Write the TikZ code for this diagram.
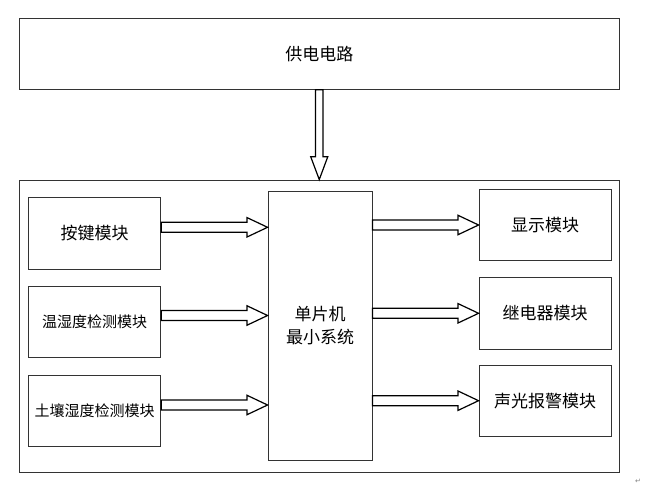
\documentclass[tikz,border=0pt]{standalone}
\usepackage{fontspec}
\setmainfont{Noto Sans CJK SC}
\newfontfamily\dejavu{DejaVu Sans}
\usetikzlibrary{calc}
\tikzset{
  box/.style={draw=black!80, line width=0.9pt, rectangle, inner sep=0pt, align=center,
    font=\fontsize{17}{23}\selectfont},
  smalltext/.style={font=\fontsize{15}{18}\selectfont},
  fatarrow/.style={draw=black, fill=white, line width=1.2pt, line join=miter},
  harrow/.style={fatarrow, to path={let \p1=(\tikztostart), \p2=(\tikztotarget) in
    (\x1,\y1+5pt) -- (\x2-20.5pt,\y1+5pt) -- (\x2-20.5pt,\y1+9.7pt) -- (\x2,\y2)
    -- (\x2-20.5pt,\y1-9.7pt) -- (\x2-20.5pt,\y1-5pt) -- (\x1,\y1-5pt) -- cycle}},
  varrow/.style={fatarrow, to path={let \p1=(\tikztostart), \p2=(\tikztotarget) in
    (\x1-3.7pt,\y1) -- (\x1-3.7pt,\y2+22.7pt) -- (\x1-8.5pt,\y2+22.7pt) -- (\x2,\y2)
    -- (\x1+8.5pt,\y2+22.7pt) -- (\x1+3.7pt,\y2+22.7pt) -- (\x1+3.7pt,\y1) -- cycle}}
}
\begin{document}
\begin{tikzpicture}[x=1pt, y=-1pt]
\useasboundingbox (0,0) rectangle (648,492);
\node[box, minimum width=599.5pt, minimum height=71.3pt] (top) at (319.25,53.65) {供电电路};
\node[box, minimum width=599.5pt, minimum height=292pt] (outer) at (319.25,326) {};
\node[box, minimum width=104pt, minimum height=268.5pt] (mcu) at (320,325.75) {单片机\\最小系统};
\node[box, minimum width=132.4pt, minimum height=71.3pt] (l1) at (94.5,233.35) {按键模块};
\node[box, smalltext, minimum width=132.4pt, minimum height=71.3pt] (l2) at (94.5,321.65) {温湿度检测模块};
\node[box, smalltext, minimum width=132.4pt, minimum height=71pt] (l3) at (94.5,411.2) {土壤湿度检测模块};
\node[box, minimum width=132.3pt, minimum height=71.4pt] (r1) at (545.15,225) {显示模块};
\node[box, minimum width=132.3pt, minimum height=71.4pt] (r2) at (545.15,313.35) {继电器模块};
\node[box, minimum width=132.3pt, minimum height=71.4pt] (r3) at (545.15,400.65) {声光报警模块};
\draw[varrow] (top.south) to (outer.north);
\draw[harrow] (l1.east |- 0,227.3) to (mcu.west |- 0,227.3);
\draw[harrow] (l2.east |- 0,315.5) to (mcu.west |- 0,315.5);
\draw[harrow] (l3.east |- 0,405) to (mcu.west |- 0,405);
\draw[harrow] (mcu.east |- 0,225) to (r1.west |- 0,225);
\draw[harrow] (mcu.east |- 0,313.3) to (r2.west |- 0,313.3);
\draw[harrow] (mcu.east |- 0,400.7) to (r3.west |- 0,400.7);
\node[font=\dejavu\fontsize{7}{7}\selectfont, text=black!50, inner sep=0pt] (ret) at (638,481) {↵};
\end{tikzpicture}
\end{document}
